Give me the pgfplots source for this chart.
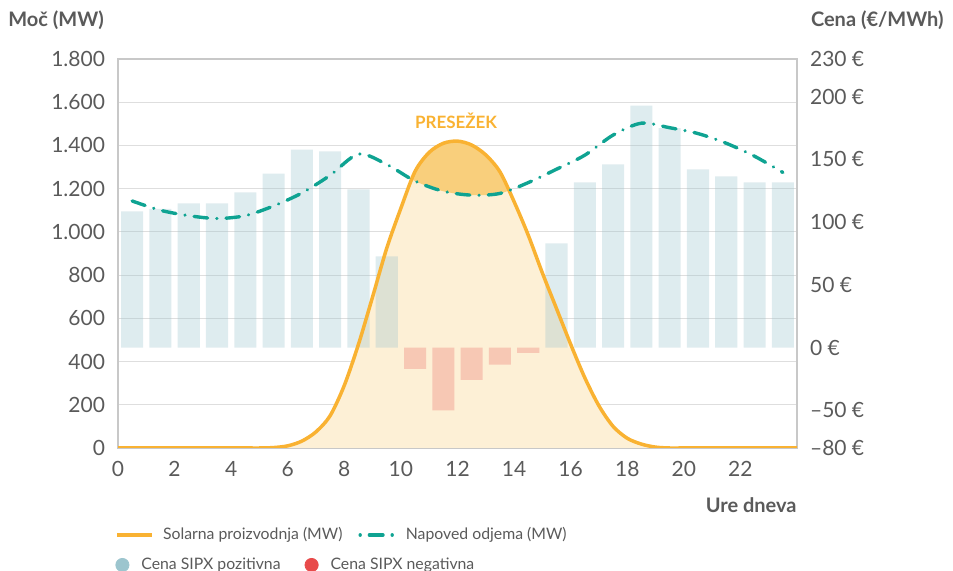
\documentclass[border=0pt]{standalone}
\usepackage{fontspec}
\setmainfont{Lato}
\usepackage{pgfplots}
\usepackage{pgfplotstable}
\pgfplotsset{compat=1.18}
\usepgfplotslibrary{fillbetween}

\definecolor{solar}{HTML}{F9B232}
\definecolor{solarfill}{HTML}{FDF0D6}
\definecolor{surplus}{HTML}{F9CF7C}
\definecolor{demand}{HTML}{0FA392}
\definecolor{posblue}{HTML}{9CC5CE}
\definecolor{negred}{HTML}{E84A4A}
\definecolor{txt}{HTML}{5A5A5A}
\definecolor{gridc}{HTML}{DEDEDE}
\definecolor{axisc}{HTML}{C8C8C8}

\newcommand{\tickfont}{\fontsize{10.5}{12}\selectfont}
\newcommand{\legfont}{\fontsize{7.9}{9.5}\selectfont}
\newcommand{\titlefont}{\fontsize{10}{12}\selectfont\bfseries}

% solar production (MW) by hour
\pgfplotstableread{
h mw
0 0
4.5 0
5 0
5.5 2
6 10
6.5 32
7 75
7.5 150
8 290
8.5 480
9 700
9.5 925
10 1110
10.5 1280
11 1368
11.5 1410
12 1420
12.5 1402
13 1356
13.5 1278
14 1140
14.5 985
15 810
15.5 645
16 480
16.5 325
17 195
17.5 100
18 45
18.5 18
19 4
19.5 0
20 0
24 0
}\solardata

% demand forecast (MW)
\pgfplotstableread{
h mw
0.5 1143
1.5 1100
2.5 1075
3.5 1062
4.5 1075
5.5 1120
6.5 1180
7.5 1262
8.5 1360
9.5 1312
10.5 1235
11.5 1188
12.5 1170
13.5 1178
14.5 1228
15.5 1290
16.5 1355
17.5 1448
18.5 1503
19.5 1482
20.5 1455
21.5 1410
22.5 1350
23.5 1275
}\demanddata

\pgfplotsset{
  base/.style={scale only axis, width=339.5pt, height=194.5pt,
    xmin=0, xmax=24, at={(0,0)}, anchor=south west},
  dotleg/.style={legend image code/.code={\fill[##1] (3.3pt,0pt) circle (3.3pt);}},
  dashleg/.style={legend image code/.code={\draw[##1, dash phase=11.4pt] (0pt,0pt) -- (17pt,0pt);}},
}

\begin{document}
\begin{tikzpicture}
% --- power axis: grid, fills ---
\begin{axis}[base, ymin=0, ymax=1800,
  ytick={0,200,...,1800}, xtick={0,2,...,22},
  ymajorgrids, grid style={color=gridc, line width=0.6pt},
  axis line style={color=axisc, line width=0.7pt},
  major tick length=0pt,
  tick label style={font=\tickfont, text=txt},
  yticklabel style={xshift=-3pt},
  xticklabel style={yshift=-3pt},
  /pgf/number format/assume math mode=true,
  /pgf/number format/1000 sep={.},
]
\addplot[name path=solarA, draw=none, smooth] table[x=h,y=mw]{\solardata};
\addplot[name path=demandA, draw=none, smooth] table[x=h,y=mw]{\demanddata};
\path[name path=zeroA] (axis cs:0,0) -- (axis cs:24,0);
\addplot[fill=solarfill, draw=none] fill between[of=solarA and zeroA];
\addplot[fill=surplus, draw=none] fill between[of=solarA and demandA, split,
  every segment no 0/.style={fill=none}, every segment no 2/.style={fill=none}];
\end{axis}

% --- price axis: bars ---
\begin{axis}[base, ymin=-80, ymax=230,
  axis y line*=right, axis x line=none,
  axis line style={color=axisc, line width=0.7pt},
  ytick={-80,-50,0,50,100,150,200,230},
  yticklabels={–80 €,–50 €,0 €,50 €,100 €,150 €,200 €,230 €},
  major tick length=0pt,
  tick label style={font=\tickfont, text=txt},
  yticklabel style={xshift=3pt},
  legend style={at={(axis description cs:-0.0044,-0.3008)}, anchor=west,
    draw=none, fill=none, inner sep=0pt, font=\legfont, text=txt,
    /tikz/every odd column/.append style={column sep=4pt},
    /tikz/every even column/.append style={column sep=10pt}},
  legend columns=2, legend cell align=left, dotleg,
]
\addplot[ybar, bar shift=0pt, bar width=0.78, draw=none, fill=posblue,
  fill opacity=0.33, forget plot] coordinates {
  (0.5,108.6) (1.5,110.6) (2.5,115.0) (3.5,115.0) (4.5,123.7) (5.5,138.7)
  (6.5,157.8) (7.5,156.3) (8.5,126.1) (9.5,72.8) (15.5,83.1) (16.5,131.7)
  (17.5,146.0) (18.5,192.8) (19.5,174.9) (20.5,142.0) (21.5,136.5)
  (22.5,131.7) (23.5,131.7)};
\addplot[ybar, bar shift=0pt, bar width=0.78, draw=none, fill=negred,
  fill opacity=0.24, forget plot] coordinates {
  (10.5,-17.0) (11.5,-50.1) (12.5,-25.7) (13.5,-13.5) (14.5,-4.1)};
\addlegendimage{posblue}
\addlegendentry{Cena SIPX pozitivna}
\addlegendimage{negred}
\addlegendentry{Cena SIPX negativna}
\end{axis}

% --- lines on top ---
\begin{axis}[base, ymin=0, ymax=1800, hide axis,
  legend style={at={(axis description cs:-0.0044,-0.2237)}, anchor=west,
    draw=none, fill=none, inner sep=0pt, font=\legfont, text=txt,
    /tikz/every odd column/.append style={column sep=3pt},
    /tikz/every even column/.append style={column sep=6pt}},
  legend columns=2, legend cell align=left,
]
\addplot[solar, line width=1.75pt, smooth] table[x=h,y=mw]{\solardata};
\addlegendentry{Solarna proizvodnja (MW)}
\addplot[demand, line width=1.7pt, smooth, line cap=round,
  dash pattern=on 6.8pt off 4.6pt on 0.01pt off 4.6pt, dashleg]
  table[x=h,y=mw]{\demanddata};
\addlegendentry{Napoved odjema (MW)}
\node[anchor=base, font=\fontsize{8.5}{10}\selectfont\bfseries, text=solar, inner sep=0pt]
  at (axis cs:11.95,1477) {PRESEŽEK};
\end{axis}

\node[anchor=base west, inner sep=0pt, font=\titlefont, text=txt] at (-55pt,210.5pt) {Moč (MW)};
\node[anchor=base west, inner sep=0pt, font=\titlefont, text=txt] at (346.3pt,210.5pt) {Cena (€/MWh)};
\node[anchor=base east, inner sep=0pt, font=\titlefont, text=txt] at (339.5pt,-32.5pt) {Ure dneva};

\pgfresetboundingbox
\path[use as bounding box] (-59pt,-61.5pt) rectangle (417.5pt,224pt);
\end{tikzpicture}
\end{document}
